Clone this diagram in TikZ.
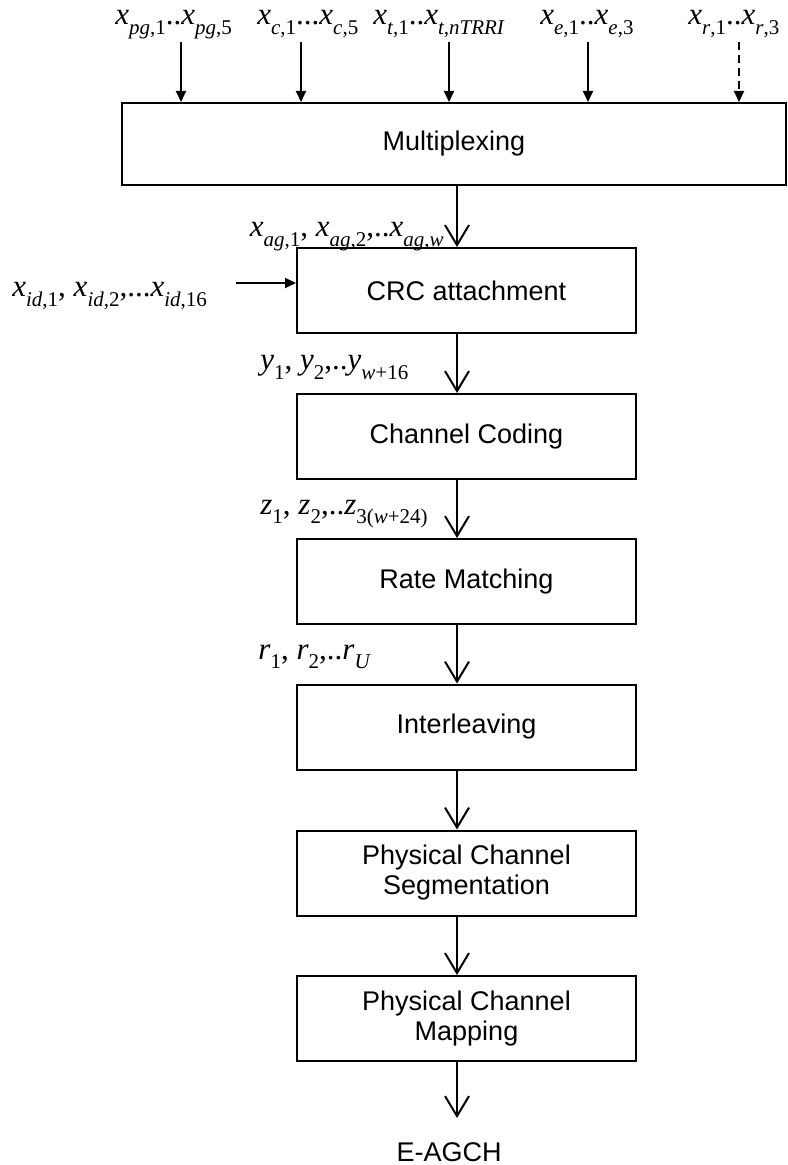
\documentclass[tikz,border=0pt]{standalone}
\usepackage{fontspec}
\setmainfont{Liberation Sans}
\newfontfamily\tms{Liberation Serif}
\usetikzlibrary{arrows.meta,positioning}
\newcommand{\vsub}[2]{\textit{#1}\raisebox{-0.32em}{\fontsize{10.5}{10.5}\selectfont #2}}

\begin{document}
\begin{tikzpicture}[x=0.5pt, y=-0.5pt,
  blk/.style={rectangle, draw, line width=1pt, minimum width=169.5pt, minimum height=42.5pt, align=center, inner sep=0pt, font=\fontsize{13.5}{15}\selectfont},
  sig/.style={inner sep=0pt, font=\tms\fontsize{15.5}{17}\selectfont},
  flow/.style={-{Straight Barb[length=10pt,width=12pt,line width=1pt]}, line width=1pt},
  feed/.style={-{Triangle[length=5.5pt,width=5pt]}, line width=1pt}
]
  \useasboundingbox (0,0) rectangle (787,1165);

  % processing chain
  \node[blk, minimum width=332pt, minimum height=41pt] (mux) at (454,144) {Multiplexing};
  \node[blk] (crc) at (466.5,290.5) {CRC attachment};
  \node[blk] (coding) at (466.5,436.5) {Channel Coding};
  \node[blk] (ratem) at (466.5,581.5) {Rate Matching};
  \node[blk] (interl) at (466.5,727) {Interleaving};
  \node[blk] (seg) at (466.5,873) {Physical Channel\\Segmentation};
  \node[blk] (mapping) at (466.5,1018.5) {Physical Channel\\Mapping};
  \node[font=\fontsize{13.5}{15}\selectfont] (out) at (449,1152) {E-AGCH};

  % inputs
  \node[sig, anchor=base west] (inpg) at (115,25) {\vsub{x}{\textit{pg},1}..\vsub{x}{\textit{pg},5}};
  \node[sig, anchor=base west] (inc) at (257,25) {\vsub{x}{\textit{c},1}...\vsub{x}{\textit{c},5}};
  \node[sig, anchor=base west] (int) at (373,25) {\vsub{x}{\textit{t},1}..\vsub{x}{\textit{t,nTRRI}}};
  \node[sig, anchor=base west] (ine) at (540,25) {\vsub{x}{\textit{e},1}..\vsub{x}{\textit{e},3}};
  \node[sig, anchor=base west] (inr) at (688,25) {\vsub{x}{\textit{r},1}..\vsub{x}{\textit{r},3}};
  \node[sig, anchor=base west] (inid) at (12,297) {\vsub{x}{\textit{id},1}, \vsub{x}{\textit{id},2},...\vsub{x}{\textit{id},16}};

  % signals between blocks
  \node[sig, anchor=base east] (sag) at (444,237) {\vsub{x}{\textit{ag},1}, \vsub{x}{\textit{ag},2},..\vsub{x}{\textit{ag},\textit{w}}};
  \node[sig, anchor=base west] (sy) at (260,370) {\vsub{y}{1}, \vsub{y}{2},..\vsub{y}{\textit{w}+16}};
  \node[sig, anchor=base west] (sz) at (260,514) {\vsub{z}{1}, \vsub{z}{2},..\vsub{z}{3(\textit{w}+24)}};
  \node[sig, anchor=base west] (sr) at (258,659) {\vsub{r}{1}, \vsub{r}{2},..\vsub{r}{\textit{U}}};

  \coordinate (tpg) at (181,42);
  \coordinate (tc) at (301,42);
  \coordinate (tt) at (449,42);
  \coordinate (te) at (588,42);
  \coordinate (tr) at (739,42);
  \coordinate (tid) at (236,283);
  \coordinate (spine) at (457,0);
  \coordinate (outend) at (457,1118);

  \draw[feed] (tpg) -- (tpg |- mux.north);
  \draw[feed] (tc) -- (tc |- mux.north);
  \draw[feed] (tt) -- (tt |- mux.north);
  \draw[feed] (te) -- (te |- mux.north);
  \draw[feed, dash pattern=on 4pt off 2.5pt] (tr) -- (tr |- mux.north);
  \draw[feed] (tid) -- (tid -| crc.west);

  \draw[flow] (mux.south -| spine) -- (crc.north -| spine);
  \draw[flow] (crc.south -| spine) -- (coding.north -| spine);
  \draw[flow] (coding.south -| spine) -- (ratem.north -| spine);
  \draw[flow] (ratem.south -| spine) -- (interl.north -| spine);
  \draw[flow] (interl.south -| spine) -- (seg.north -| spine);
  \draw[flow] (seg.south -| spine) -- (mapping.north -| spine);
  \draw[flow] (mapping.south -| spine) -- (outend);
\end{tikzpicture}
\end{document}
